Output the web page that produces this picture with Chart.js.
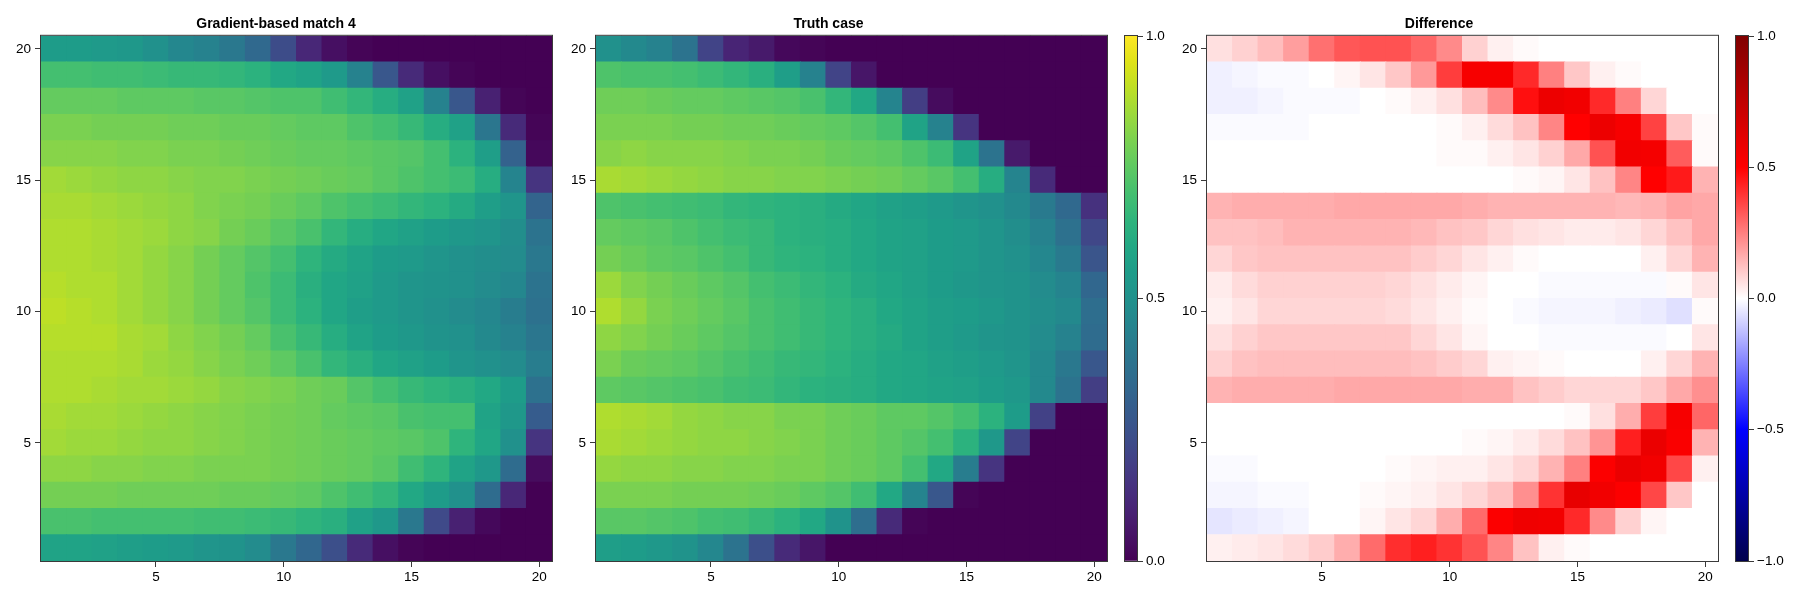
<!DOCTYPE html>
<html>
<head>
<meta charset="utf-8">
<script src="https://cdn.jsdelivr.net/npm/chart.js@4.4.1/dist/chart.umd.min.js"></script>
<style>
  html, body { margin: 0; padding: 0; background: #fff; }
  #wrap { position: relative; width: 1800px; height: 600px; overflow: hidden; }
  canvas { position: absolute; top: 0; }
</style>
</head>
<body>
<div id="wrap">
  <canvas id="match" width="593" height="600" style="left:0px"></canvas>
  <canvas id="truth" width="603" height="600" style="left:550px"></canvas>
  <canvas id="diff" width="605" height="600" style="left:1160px"></canvas>
  <canvas id="cbField" width="80" height="600" style="left:1100px"></canvas>
  <canvas id="cbDiff" width="90" height="600" style="left:1710px"></canvas>
</div>
<script>
// grid coordinates
const colLabels = [1,2,3,4,5,6,7,8,9,10,11,12,13,14,15,16,17,18,19,20];
const rowLabels = [20,19,18,17,16,15,14,13,12,11,10,9,8,7,6,5,4,3,2,1];
const xTickVals = [5, 10, 15, 20];
const yTickVals = [5, 10, 15, 20];
const fieldTicks = [0, 0.5, 1];
const diffTicks = [-1, -0.5, 0, 0.5, 1];

// rows listed from y = 20 (top) down to y = 1
const matchRows = [
  [0.55,0.55,0.54,0.53,0.50,0.46,0.44,0.40,0.34,0.23,0.11,0.04,0.01,0,0,0,0,0,0,0],
  [0.70,0.70,0.69,0.69,0.68,0.67,0.67,0.66,0.64,0.60,0.58,0.54,0.44,0.27,0.12,0.04,0.01,0,0,0],
  [0.76,0.76,0.76,0.75,0.75,0.75,0.74,0.74,0.73,0.72,0.72,0.69,0.66,0.62,0.57,0.44,0.27,0.09,0.01,0],
  [0.80,0.80,0.79,0.79,0.79,0.78,0.78,0.77,0.77,0.76,0.75,0.75,0.72,0.70,0.67,0.62,0.57,0.39,0.12,0.01],
  [0.82,0.82,0.82,0.81,0.81,0.80,0.80,0.79,0.78,0.77,0.76,0.76,0.75,0.74,0.73,0.70,0.64,0.56,0.31,0.02],
  [0.86,0.85,0.84,0.83,0.83,0.82,0.81,0.81,0.80,0.79,0.78,0.77,0.76,0.74,0.72,0.70,0.68,0.62,0.45,0.15],
  [0.87,0.87,0.86,0.85,0.84,0.83,0.81,0.80,0.79,0.77,0.75,0.72,0.70,0.68,0.66,0.64,0.61,0.56,0.52,0.32],
  [0.88,0.88,0.87,0.86,0.85,0.83,0.82,0.79,0.77,0.74,0.71,0.66,0.62,0.59,0.57,0.55,0.53,0.52,0.49,0.38],
  [0.88,0.88,0.87,0.86,0.84,0.82,0.79,0.76,0.73,0.70,0.65,0.61,0.58,0.55,0.54,0.52,0.50,0.49,0.48,0.40],
  [0.89,0.88,0.88,0.86,0.84,0.82,0.79,0.76,0.72,0.68,0.63,0.59,0.57,0.54,0.52,0.51,0.50,0.48,0.46,0.38],
  [0.90,0.89,0.88,0.86,0.84,0.82,0.79,0.76,0.73,0.68,0.64,0.59,0.56,0.54,0.52,0.50,0.48,0.46,0.42,0.37],
  [0.89,0.89,0.89,0.87,0.86,0.83,0.81,0.79,0.76,0.71,0.67,0.62,0.58,0.55,0.53,0.51,0.50,0.47,0.44,0.39],
  [0.88,0.88,0.88,0.87,0.85,0.84,0.82,0.80,0.78,0.75,0.71,0.66,0.63,0.59,0.57,0.55,0.52,0.50,0.48,0.42],
  [0.88,0.88,0.87,0.86,0.86,0.85,0.84,0.82,0.81,0.80,0.78,0.77,0.73,0.70,0.67,0.65,0.63,0.60,0.55,0.37],
  [0.87,0.86,0.86,0.85,0.84,0.83,0.82,0.81,0.80,0.79,0.78,0.76,0.75,0.74,0.71,0.70,0.70,0.58,0.53,0.29],
  [0.86,0.85,0.85,0.84,0.83,0.83,0.82,0.81,0.80,0.79,0.78,0.77,0.76,0.75,0.74,0.72,0.65,0.59,0.50,0.15],
  [0.83,0.83,0.82,0.82,0.81,0.81,0.80,0.80,0.80,0.79,0.78,0.77,0.76,0.74,0.69,0.65,0.58,0.53,0.35,0.03],
  [0.79,0.79,0.79,0.78,0.78,0.78,0.78,0.77,0.77,0.76,0.75,0.72,0.69,0.66,0.60,0.55,0.50,0.35,0.11,0],
  [0.71,0.71,0.70,0.70,0.70,0.70,0.69,0.69,0.68,0.67,0.65,0.63,0.57,0.53,0.40,0.22,0.09,0.02,0,0],
  [0.58,0.58,0.57,0.56,0.55,0.54,0.52,0.51,0.48,0.40,0.33,0.24,0.12,0.04,0.01,0,0,0,0,0]
];

const truthRows = [
  [0.50,0.47,0.44,0.38,0.20,0.10,0.07,0.02,0.01,0,0,0,0,0,0,0,0,0,0,0],
  [0.72,0.71,0.71,0.70,0.68,0.66,0.63,0.56,0.44,0.20,0.06,0,0,0,0,0,0,0,0,0],
  [0.78,0.78,0.77,0.76,0.76,0.75,0.74,0.73,0.71,0.66,0.60,0.45,0.18,0.03,0,0,0,0,0,0],
  [0.80,0.80,0.80,0.79,0.79,0.78,0.78,0.77,0.76,0.75,0.73,0.70,0.58,0.44,0.15,0,0,0,0,0],
  [0.82,0.83,0.82,0.82,0.82,0.81,0.80,0.80,0.79,0.77,0.76,0.75,0.72,0.68,0.58,0.38,0.07,0,0,0],
  [0.87,0.86,0.85,0.84,0.83,0.82,0.82,0.81,0.81,0.80,0.79,0.78,0.76,0.74,0.70,0.62,0.45,0.12,0,0],
  [0.72,0.71,0.70,0.69,0.68,0.66,0.65,0.64,0.63,0.61,0.59,0.57,0.56,0.54,0.52,0.50,0.47,0.41,0.34,0.14],
  [0.76,0.75,0.74,0.72,0.70,0.68,0.67,0.64,0.63,0.62,0.60,0.58,0.57,0.55,0.54,0.52,0.49,0.44,0.37,0.21],
  [0.79,0.77,0.75,0.74,0.72,0.70,0.67,0.65,0.64,0.62,0.60,0.58,0.57,0.55,0.54,0.52,0.50,0.46,0.41,0.26],
  [0.85,0.81,0.79,0.77,0.75,0.73,0.70,0.68,0.66,0.64,0.61,0.59,0.57,0.55,0.53,0.52,0.51,0.48,0.45,0.33],
  [0.88,0.84,0.80,0.78,0.76,0.74,0.71,0.69,0.67,0.65,0.63,0.60,0.58,0.56,0.55,0.53,0.51,0.49,0.47,0.36],
  [0.83,0.81,0.79,0.77,0.75,0.73,0.71,0.69,0.67,0.65,0.63,0.61,0.58,0.56,0.54,0.52,0.51,0.48,0.44,0.35],
  [0.80,0.77,0.76,0.75,0.73,0.71,0.69,0.67,0.66,0.64,0.62,0.60,0.59,0.57,0.56,0.54,0.52,0.47,0.40,0.27],
  [0.75,0.74,0.73,0.72,0.71,0.69,0.68,0.66,0.64,0.63,0.62,0.60,0.59,0.58,0.57,0.55,0.53,0.47,0.38,0.18],
  [0.88,0.87,0.86,0.84,0.83,0.82,0.82,0.80,0.80,0.78,0.77,0.75,0.75,0.73,0.70,0.64,0.55,0.19,0,0],
  [0.87,0.86,0.85,0.84,0.83,0.83,0.82,0.81,0.80,0.78,0.77,0.75,0.73,0.70,0.64,0.53,0.20,0,0,0],
  [0.84,0.83,0.83,0.82,0.82,0.81,0.81,0.80,0.80,0.78,0.77,0.75,0.70,0.60,0.42,0.15,0,0,0,0],
  [0.80,0.80,0.80,0.79,0.79,0.79,0.78,0.77,0.75,0.73,0.69,0.60,0.45,0.27,0.01,0,0,0,0,0],
  [0.74,0.74,0.73,0.72,0.70,0.69,0.67,0.64,0.60,0.51,0.36,0.12,0.01,0,0,0,0,0,0,0],
  [0.56,0.55,0.53,0.51,0.46,0.38,0.24,0.12,0.06,0,0,0,0,0,0,0,0,0,0,0]
];

const diffRows = [
  [0.06,0.09,0.13,0.19,0.28,0.33,0.34,0.34,0.30,0.23,0.09,0.03,0.01,0,0,0,0,0,0,0],
  [-0.03,-0.02,-0.01,-0.01,0,0.02,0.05,0.11,0.20,0.38,0.53,0.53,0.42,0.25,0.11,0.03,0.01,0,0,0],
  [-0.03,-0.03,-0.02,-0.01,-0.01,-0.01,0,0.01,0.03,0.06,0.13,0.23,0.47,0.57,0.55,0.42,0.25,0.08,0,0],
  [-0.01,-0.01,-0.01,-0.01,0,0,0,0,0,0.01,0.03,0.07,0.12,0.24,0.50,0.57,0.53,0.37,0.11,0.01],
  [0,0,0,0,0,0,0,0,0,0.01,0.01,0.03,0.05,0.09,0.17,0.34,0.55,0.54,0.32,0.01],
  [0,0,0,0,0,0,0,0,0,0,0,0,0.01,0.02,0.05,0.12,0.24,0.50,0.45,0.15],
  [0.15,0.16,0.16,0.16,0.16,0.17,0.17,0.17,0.17,0.17,0.16,0.15,0.15,0.15,0.15,0.15,0.14,0.15,0.18,0.17],
  [0.12,0.12,0.13,0.15,0.15,0.15,0.15,0.15,0.14,0.12,0.11,0.08,0.06,0.05,0.04,0.04,0.05,0.08,0.12,0.17],
  [0.08,0.11,0.12,0.12,0.12,0.12,0.12,0.12,0.10,0.08,0.05,0.03,0.01,0,0,0,0,0.03,0.08,0.15],
  [0.04,0.07,0.09,0.09,0.09,0.09,0.09,0.08,0.06,0.04,0.02,0,0,-0.01,-0.01,-0.01,-0.01,-0.01,0.01,0.05],
  [0.03,0.05,0.08,0.08,0.08,0.08,0.08,0.07,0.05,0.03,0.01,0,-0.01,-0.02,-0.02,-0.02,-0.03,-0.04,-0.06,0.01],
  [0.06,0.09,0.11,0.11,0.11,0.11,0.11,0.11,0.08,0.05,0.02,0,0,-0.01,-0.01,-0.01,-0.01,-0.01,0,0.05],
  [0.09,0.12,0.13,0.13,0.13,0.13,0.13,0.13,0.12,0.10,0.08,0.03,0.02,0.01,0,0,0,0.03,0.08,0.15],
  [0.15,0.16,0.16,0.16,0.16,0.17,0.17,0.17,0.17,0.17,0.16,0.16,0.12,0.10,0.08,0.08,0.08,0.11,0.17,0.22],
  [0,0,0,0,0,0,0,0,0,0,0,0,0,0,0.01,0.06,0.16,0.38,0.53,0.30],
  [0,0,0,0,0,0,0,0,0,0,0.01,0.02,0.04,0.07,0.12,0.21,0.44,0.58,0.52,0.15],
  [-0.01,-0.01,0,0,0,0,0,0.01,0.02,0.03,0.03,0.05,0.08,0.15,0.25,0.51,0.58,0.55,0.36,0.03],
  [-0.02,-0.02,-0.01,-0.01,0,0,0.01,0.02,0.03,0.05,0.08,0.12,0.22,0.40,0.59,0.55,0.51,0.36,0.11,0],
  [-0.05,-0.04,-0.03,-0.02,0,0,0.02,0.05,0.08,0.16,0.29,0.51,0.56,0.55,0.42,0.23,0.09,0.02,0,0],
  [0.03,0.04,0.05,0.07,0.10,0.16,0.29,0.41,0.44,0.40,0.34,0.24,0.12,0.03,0.01,0,0,0,0,0]
];

const FONT = "'Liberation Sans', Arial, sans-serif";
const SPINE = '#3a3a3a';
Chart.defaults.font.family = FONT;
Chart.defaults.color = '#000';

// colour maps
const viridisStops = ['#440154','#471365','#482475','#463480','#414487','#3b528b','#355f8d',
  '#2f6c8e','#2a788e','#25848e','#21918c','#1e9c89','#22a884','#2fb47c','#44bf70','#5ec962',
  '#7ad151','#9bd93c','#bddf26','#dfe318','#fde725'].map(h => [1, 3, 5].map(i => parseInt(h.substr(i, 2), 16)));
const seismicStops = [[0, 0, 76], [0, 0, 255], [255, 255, 255], [255, 0, 0], [128, 0, 0]];

function lerpMap(stops, t) {
  t = Math.max(0, Math.min(1, t));
  const p = t * (stops.length - 1);
  const i = Math.min(Math.floor(p), stops.length - 2);
  const f = p - i;
  const c = stops[i].map((a, k) => Math.round(a + (stops[i + 1][k] - a) * f));
  return 'rgb(' + c.join(',') + ')';
}
const viridis = v => lerpMap(viridisStops, v);
const seismic = v => lerpMap(seismicStops, (v + 1) / 2);

const frame = {
  id: 'frame',
  afterDraw(chart) {
    const a = chart.chartArea, ctx = chart.ctx;
    ctx.save();
    ctx.strokeStyle = SPINE;
    ctx.lineWidth = 1;
    ctx.strokeRect(a.left - 0.5, a.top - 0.5, a.right - a.left + 1, a.bottom - a.top + 1);
    ctx.restore();
  }
};

function heatmap(id, title, rows, colorFn, yAxisWidth, padRight) {
  const data = [], colors = [];
  rows.forEach((row, i) => row.forEach((v, j) => {
    data.push({ x: colLabels[j], y: [rowLabels[i] - 0.5, rowLabels[i] + 0.5] });
    colors.push(colorFn(v));
  }));
  const tickStyle = { color: '#000', font: { size: 13.5 }, maxRotation: 0 };
  return new Chart(document.getElementById(id), {
    type: 'bar',
    data: { datasets: [{ data: data, backgroundColor: colors, borderWidth: 0,
      barPercentage: 1, categoryPercentage: 1, inflateAmount: 0.5 }] },
    options: {
      responsive: false, animation: false, devicePixelRatio: 1,
      layout: { padding: { right: padRight } },
      plugins: {
        legend: { display: false }, tooltip: { enabled: false },
        title: { display: true, text: title, color: '#000',
          font: { size: 14, weight: 'bold' }, padding: { top: 16, bottom: 3 } }
      },
      scales: {
        x: { type: 'linear', min: 0.5, max: 20.5, offset: false,
          afterBuildTicks: s => { s.ticks = xTickVals.map(v => ({ value: v })); },
          afterFit: s => { s.height = 39; },
          grid: { drawOnChartArea: false, tickLength: 6, color: SPINE, offset: false },
          border: { display: false },
          ticks: Object.assign({ padding: 2 }, tickStyle) },
        y: { type: 'linear', min: 0.5, max: 20.5,
          afterBuildTicks: s => { s.ticks = yTickVals.map(v => ({ value: v })); },
          afterFit: s => { s.width = yAxisWidth; },
          grid: { drawOnChartArea: false, tickLength: 6, color: SPINE },
          border: { display: false },
          ticks: Object.assign({ padding: 4 }, tickStyle) }
      }
    },
    plugins: [frame]
  });
}

function colorbar(id, colorFn, lo, hi, tickVals, padLeft, axisWidth) {
  return new Chart(document.getElementById(id), {
    type: 'bar',
    data: { labels: [''], datasets: [{ data: [[lo, hi]], borderWidth: 0,
      barPercentage: 1, categoryPercentage: 1,
      backgroundColor: c => {
        const a = c.chart.chartArea;
        if (!a) return null;
        const g = c.chart.ctx.createLinearGradient(0, a.bottom, 0, a.top);
        for (let k = 0; k <= 40; k++) g.addColorStop(k / 40, colorFn(lo + (hi - lo) * k / 40));
        return g;
      } }] },
    options: {
      responsive: false, animation: false, devicePixelRatio: 1,
      layout: { padding: { left: padLeft, top: 36, bottom: 39 } },
      plugins: { legend: { display: false }, tooltip: { enabled: false } },
      scales: {
        x: { display: false },
        y: { position: 'right', min: lo, max: hi,
          afterBuildTicks: s => { s.ticks = tickVals.map(v => ({ value: v })); },
          afterFit: s => { s.width = axisWidth; },
          grid: { drawOnChartArea: false, tickLength: 6, color: SPINE },
          border: { display: false },
          ticks: { color: '#000', font: { size: 13.5 }, padding: 3,
            callback: v => (v < 0 ? '\u2212' : '') + Math.abs(v).toFixed(1) } }
      }
    },
    plugins: [frame]
  });
}

heatmap('match', 'Gradient-based match 4', matchRows, viridis, 41, 41);
heatmap('truth', 'Truth case', truthRows, viridis, 46, 46);
heatmap('diff', 'Difference', diffRows, seismic, 47, 47);
colorbar('cbField', viridis, 0, 1, fieldTicks, 25, 43);
colorbar('cbDiff', seismic, -1, 1, diffTicks, 26, 52);
</script>
</body>
</html>
